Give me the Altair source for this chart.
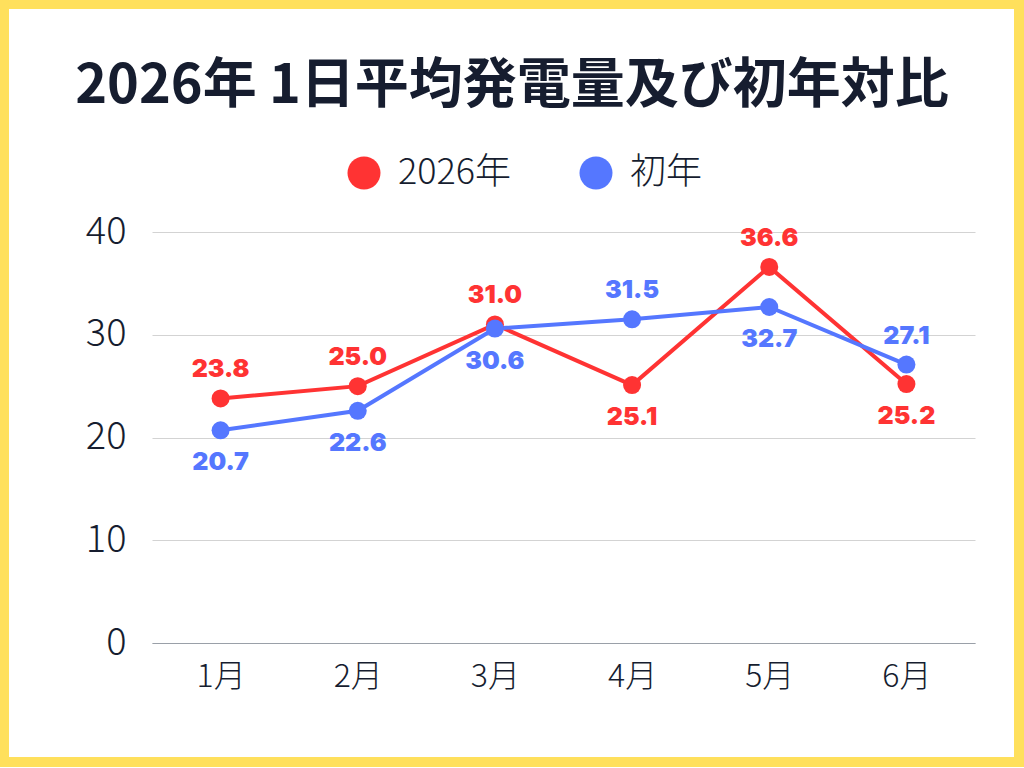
import altair as alt
import pandas as pd

# Monthly average daily generation (kWh), current year vs. first year
months = ["1月", "2月", "3月", "4月", "5月", "6月"]
series_names = ["2026年", "初年"]
values_2026 = [23.8, 25.0, 31.0, 25.1, 36.6, 25.2]
values_first = [20.7, 22.6, 30.6, 31.5, 32.7, 27.1]
y_ticks = [0, 10, 20, 30, 40]
title_text = "2026年 1日平均発電量及び初年対比"

RED = "#FF3333"
BLUE = "#5577FF"
INK = "#161D2F"
YELLOW = "#FFE05C"
FONT = "Noto Sans CJK JP"

rows = []
for m, a, b in zip(months, values_2026, values_first):
    rows.append({"month": m, "series": series_names[0], "value": a,
                 "pos": "above" if a >= b else "below"})
    rows.append({"month": m, "series": series_names[1], "value": b,
                 "pos": "above" if b > a else "below"})
df = pd.DataFrame(rows)

W, H = 823, 411
PAD = {"left": 152, "top": 232, "right": 49, "bottom": 125}

x_enc = alt.X("month:N", sort=months,
              scale=alt.Scale(type="point", padding=0.5),
              axis=alt.Axis(title=None, labelAngle=0, ticks=False,
                            domainColor="#9AA0A8", domainWidth=1.2,
                            labelFontSize=32, labelPadding=18,
                            labelColor=INK, labelFont=FONT,
                            labelFontWeight=300))
y_enc = alt.Y("value:Q", scale=alt.Scale(domain=[0, 40]),
              axis=alt.Axis(title=None, values=y_ticks, ticks=False,
                            domain=False, gridColor="#D3D3D3",
                            labelFontSize=38, labelPadding=26,
                            labelColor=INK, labelFont=FONT,
                            labelFontWeight=300))
color_enc = alt.Color("series:N",
                      scale=alt.Scale(domain=series_names, range=[RED, BLUE]),
                      legend=alt.Legend(title=None, orient="none",
                                        direction="horizontal",
                                        legendX=194, legendY=-77,
                                        symbolType="circle", symbolSize=1089,
                                        symbolStrokeWidth=0,
                                        labelFontSize=36, labelFont=FONT,
                                        labelFontWeight=300,
                                        labelColor=INK, labelOffset=16,
                                        columnPadding=66, padding=0))

base = alt.Chart(df).encode(x=x_enc, y=y_enc, color=color_enc)

lines = base.mark_line(strokeWidth=4)
points = base.mark_point(filled=True, opacity=1, size=324, shape="circle")

label_common = dict(font="Inter", fontSize=25, fontWeight=900)
labels_above = base.mark_text(dy=-29, **label_common).encode(
    text=alt.Text("value:Q", format=".1f")
).transform_filter(alt.datum.pos == "above")
labels_below = base.mark_text(dy=32, **label_common).encode(
    text=alt.Text("value:Q", format=".1f")
).transform_filter(alt.datum.pos == "below")

title = alt.Chart(pd.DataFrame({"t": [title_text]})).mark_text(
    font=FONT, fontSize=54, fontWeight="bold", color=INK,
    align="center", baseline="middle"
).encode(text="t:N", x=alt.value(512 - PAD["left"]), y=alt.value(87 - PAD["top"]))

frame = alt.Chart(pd.DataFrame({"f": [0]})).mark_rect(
    fillOpacity=0, stroke=YELLOW, strokeWidth=10
).encode(
    x=alt.value(4 - PAD["left"]), x2=alt.value(1019 - PAD["left"]),
    y=alt.value(4 - PAD["top"]), y2=alt.value(762 - PAD["top"])
)

chart = alt.layer(lines, points, labels_above, labels_below, title, frame).properties(
    width=W, height=H,
    autosize=alt.AutoSizeParams(type="none"),
    padding=PAD,
    background="white",
).configure_view(stroke=None)

chart.save("out.html", embed_options={"renderer": "svg", "actions": False})
